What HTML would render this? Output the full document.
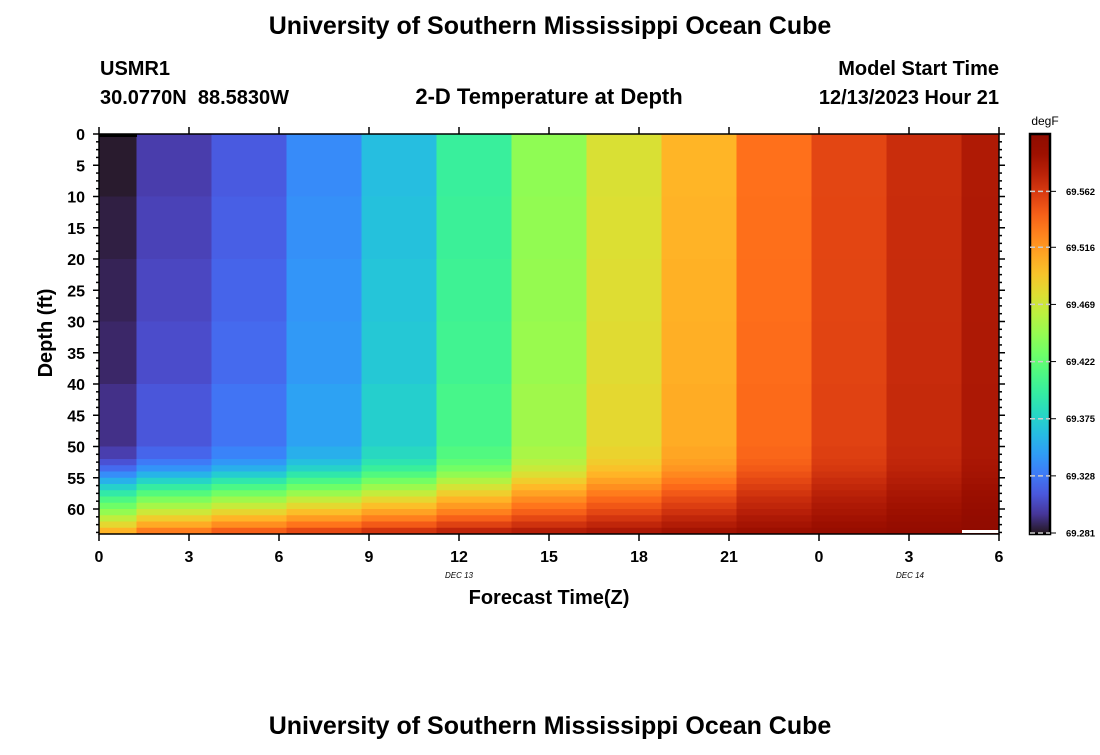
<!DOCTYPE html>
<html><head><meta charset="utf-8"><style>
body{margin:0;background:#fff;}
svg text{font-family:"Liberation Sans",Arial,sans-serif;}
</style></head><body>
<svg id="chart" width="1100" height="750" viewBox="0 0 1100 750" xmlns="http://www.w3.org/2000/svg">
<rect width="1100" height="750" fill="#fff"/>
<text x="550" y="34" text-anchor="middle" font-size="25" font-weight="bold">University of Southern Mississippi Ocean Cube</text>
<text x="100" y="75" font-size="20" font-weight="bold">USMR1</text>
<text x="100" y="104" font-size="20" font-weight="bold" xml:space="preserve">30.0770N  88.5830W</text>
<text x="549" y="104" text-anchor="middle" font-size="22" font-weight="bold">2-D Temperature at Depth</text>
<text x="999" y="75" text-anchor="end" font-size="20" font-weight="bold">Model Start Time</text>
<text x="999" y="104" text-anchor="end" font-size="20" font-weight="bold">12/13/2023 Hour 21</text>
<g id="cells"></g>
<g id="axes"></g>
<g id="cbar"></g>
<text transform="translate(52,333) rotate(-90)" text-anchor="middle" font-size="20" font-weight="bold">Depth (ft)</text>
<text x="549" y="604" text-anchor="middle" font-size="20" font-weight="bold">Forecast Time(Z)</text>
<text x="459" y="578" text-anchor="middle" font-size="8" font-style="italic" font-family="Liberation Mono">DEC 13</text>
<text x="910" y="578" text-anchor="middle" font-size="8" font-style="italic" font-family="Liberation Mono">DEC 14</text>
<text x="550" y="734" text-anchor="middle" font-size="25" font-weight="bold">University of Southern Mississippi Ocean Cube</text>
</svg>
<script>
// ---- data ----
const timeHours = [0,2.5,5,7.5,10,12.5,15,17.5,20,22.5,25,27.5,30];
const surfaceTemp = [69.283,69.301,69.315,69.338,69.364,69.400,69.443,69.476,69.503,69.536,69.556,69.570,69.583];
const bottomTemp = [69.515,69.542,69.556,69.566,69.576,69.584,69.587,69.590,69.594,69.597,69.600,69.603,69.607];
const depthTops = [0,10,20,30,40,50,52,53,54,55,56,57,58,59,60,61,62,63];
const mixProfile = [0,0.01,0.02,0.03,0.05,0.08,0.12,0.17,0.24,0.32,0.4,0.48,0.56,0.63,0.7,0.78,0.86,0.95];
const xTickLabels = ["0","3","6","9","12","15","18","21","0","3","6"];
const yTickLabels = ["0","5","10","15","20","25","30","35","40","45","50","55","60"];
const cbarTicks = [69.281,69.328,69.375,69.422,69.469,69.516,69.562];
const vmin = 69.281, vmax = 69.610;

const NS="http://www.w3.org/2000/svg";
const X0=99,X1=999,Y0=134,Y1=534,TMAX=30,DMAX=64;
const xs=h=>X0+(h/TMAX)*(X1-X0);
const ys=d=>Y0+(d/DMAX)*(Y1-Y0);
const cy=v=>534-(v-vmin)/(vmax-vmin)*400;
function turbo(t){t=Math.max(0,Math.min(1,t));
 const r=34.61+t*(1172.33-t*(10793.56-t*(33300.12-t*(38394.49-t*14825.05))));
 const g=23.31+t*(557.33+t*(1225.33-t*(3574.96-t*(1073.77+t*707.56))));
 const b=27.2+t*(3211.1-t*(15327.97-t*(27814-t*(22569.18-t*6838.66))));
 const c=x=>Math.max(0,Math.min(255,Math.round(x)));
 return `rgb(${c(r)},${c(g)},${c(b)})`;}
function mk(tag,attrs,parent){const e=document.createElementNS(NS,tag);for(const k in attrs)e.setAttribute(k,attrs[k]);parent.appendChild(e);return e;}

const cells=document.getElementById('cells');
timeHours.forEach((h,i)=>{
 const xa=Math.max(X0,xs(h-1.25)), xb=Math.min(X1,xs(h+1.25));
 depthTops.forEach((d,j)=>{
  const dEnd = j+1<depthTops.length?depthTops[j+1]:DMAX;
  const v = surfaceTemp[i]+(bottomTemp[i]-surfaceTemp[i])*mixProfile[j];
  const r=mk('rect',{x:xa,y:ys(d),width:xb-xa+0.5,height:ys(dEnd)-ys(d)+0.5,fill:turbo((v-vmin)/(vmax-vmin))},cells);
  
  
 });
});
let r0=mk('rect',{x:99,y:134,width:38,height:3,fill:'#000'},cells);


let r1=mk('rect',{x:962,y:530,width:37,height:3,fill:'#fff'},cells);



const ax=document.getElementById('axes');
let fr=mk('rect',{x:X0,y:Y0,width:X1-X0,height:Y1-Y0,fill:'none',stroke:'#000','stroke-width':1.5},ax);


for(let k=0;k*1.25<=DMAX;k++){
 const d=k*1.25, y=ys(d), L=k%4===0?6:3;
 mk('line',{x1:X0-L,x2:X0,y1:y,y2:y,stroke:'#000','stroke-width':1.5},ax);
 mk('line',{x1:X1,x2:X1+L,y1:y,y2:y,stroke:'#000','stroke-width':1.5},ax);
}
yTickLabels.forEach((t,i)=>{
 const e=mk('text',{x:85,y:ys(i*5)+6,'text-anchor':'end','font-size':16,'font-weight':'bold'},ax);e.textContent=t;
 
 
});
xTickLabels.forEach((t,i)=>{
 const x=xs(i*3);
 mk('line',{x1:x,x2:x,y1:Y1,y2:Y1+7,stroke:'#000','stroke-width':1.5},ax);
 mk('line',{x1:x,x2:x,y1:Y0-7,y2:Y0,stroke:'#000','stroke-width':1.5},ax);
 const e=mk('text',{x:x,y:562,'text-anchor':'middle','font-size':16,'font-weight':'bold'},ax);e.textContent=t;
 
 
});

const cb=document.getElementById('cbar');
const defs=mk('defs',{},cb);
const grad=mk('linearGradient',{id:'cg',x1:0,y1:1,x2:0,y2:0},defs);
for(let k=0;k<=20;k++){mk('stop',{offset:k/20,'stop-color':turbo(k/20)},grad);}
let cr=mk('rect',{x:1030,y:134,width:20,height:400,fill:'url(#cg)',stroke:'#000','stroke-width':2.5},cb);


let dl=mk('text',{x:1045,y:125,'text-anchor':'middle','font-size':12},cb);dl.textContent='degF';


cbarTicks.forEach(v=>{
 const y=cy(v)-1;
 mk('line',{x1:1030,x2:1050,y1:y,y2:y,stroke:'#ccc','stroke-width':1.5,'stroke-dasharray':'5,3'},cb);
 mk('line',{x1:1051,x2:1056,y1:y,y2:y,stroke:'#000','stroke-width':1},cb);
 const e=mk('text',{x:1066,y:y+3.5,'font-size':9.5,'font-weight':'bold'},cb);e.textContent=v.toFixed(3);
 
 
});
</script>
</body></html>
